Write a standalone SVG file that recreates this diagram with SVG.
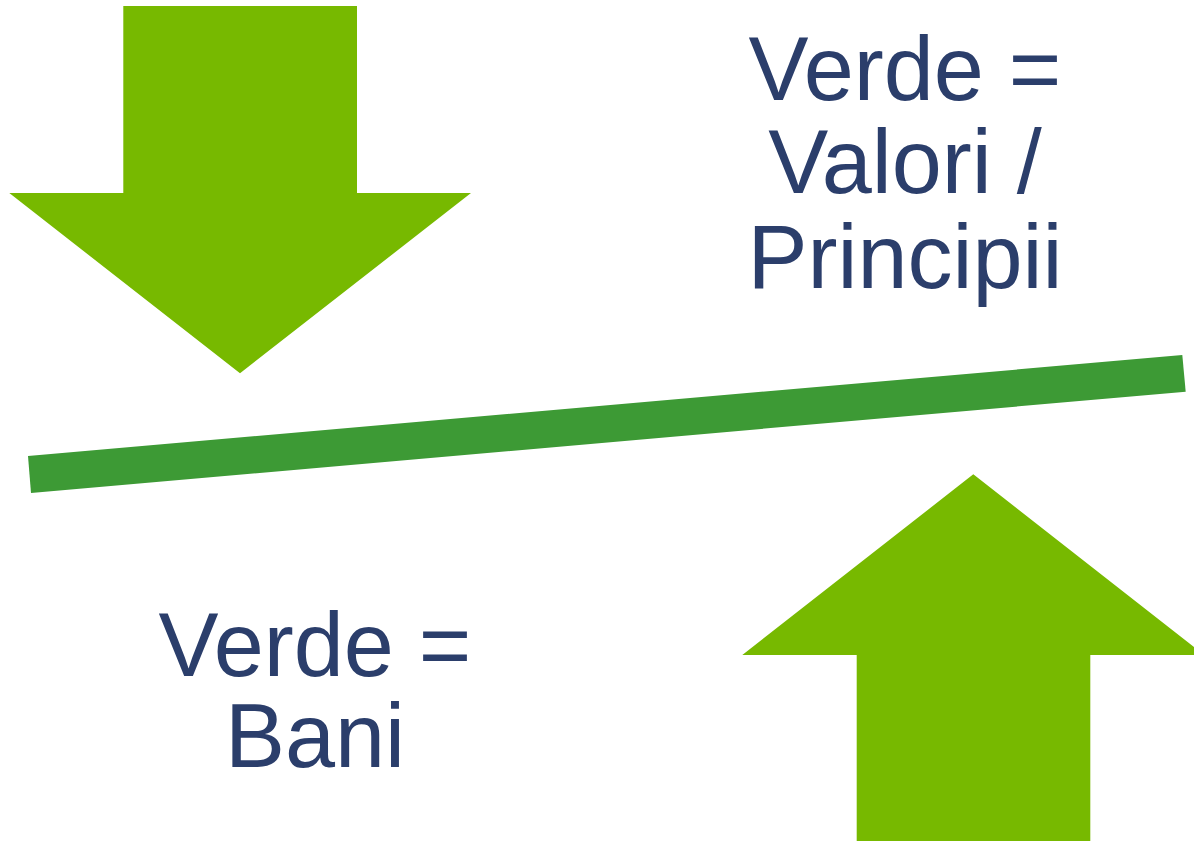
<svg xmlns="http://www.w3.org/2000/svg" width="1194" height="841" viewBox="0 0 1194 841">
<style>
.arrow{fill:#77b900}
.bar{fill:#3d9a35}
.lbl{font-family:"Liberation Sans",Arial,sans-serif;font-size:90px;fill:#2b3e6b;text-anchor:middle}
</style>
<rect width="1194" height="841" fill="#ffffff"/>
<g id="arrow-down">
<polygon class="arrow" points="123.3,6 357,6 357,193 471,193 240,373.3 9.3,193 123.3,193"/>
</g>
<g id="arrow-up">
<polygon class="arrow" points="973.3,474.3 1204.3,655 1090.3,655 1090.3,845 856.7,845 856.7,655 742.3,655"/>
</g>
<g id="balance-bar">
<polygon class="bar" points="28,456 1182.3,355 1185.7,391.7 31,493"/>
</g>
<g id="label-top">
<text class="lbl" x="905" y="100">Verde =</text>
<text class="lbl" x="905" y="193">Valori /</text>
<text class="lbl" x="905" y="288">Principii</text>
</g>
<g id="label-bottom">
<text class="lbl" x="315" y="676">Verde =</text>
<text class="lbl" x="315" y="767">Bani</text>
</g>
<g id="connectors"></g>
</svg>
